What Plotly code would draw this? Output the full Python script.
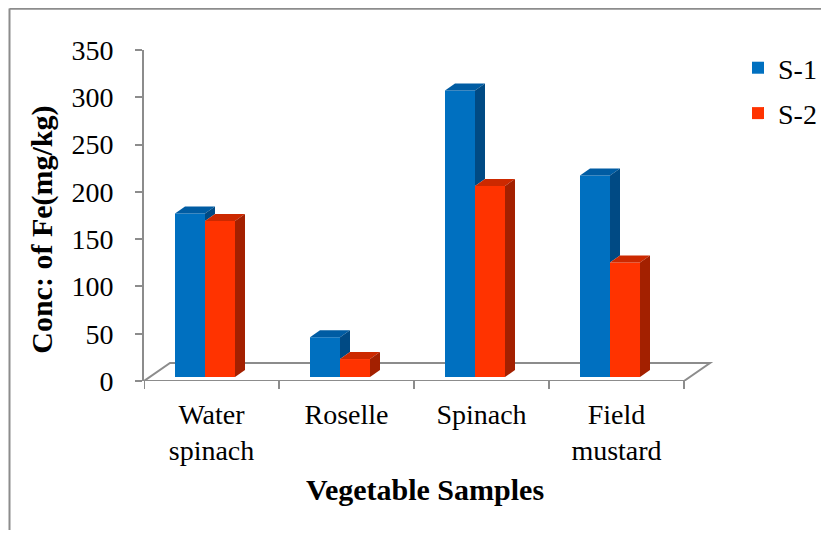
import plotly.graph_objects as go

# ---------------- data ----------------
categories = ["Water<br>spinach", "Roselle", "Spinach", "Field<br>mustard"]
series_names = ["S-1", "S-2"]
s1_values = [173, 42, 303, 213]
s2_values = [165, 19, 202, 121]
y_ticks = [0, 50, 100, 150, 200, 250, 300, 350]

# ---------------- style / geometry constants ----------------
FONT = "Liberation Serif"
OFF = 8                           # page body margin
W, H = 829 - OFF, 538 - 2 * OFF   # figure size that fits the window
# plot area in screen pixels (right edge = figure edge so the legend fits inside)
PL, PR, PT, PB = 144, 829, 50, 381.5
L, T = PL - OFF, PT - OFF
R, B = W - (PR - OFF), H - (PB - OFF)
plot_w = PR - PL
plot_h = PB - PT
PX_PER_CAT = 135.0
x_range = [-0.5, -0.5 + plot_w / PX_PER_CAT]
y_range = [0, 350]
PX_PER_Y = plot_h / (y_range[1] - y_range[0])

BAR_W_PX = 30
GROUP_SHIFT_PX = -6.5
FRONT_LIFT_PX = 4
DEPTH_PX = (10, 7)
FLOOR_PX = (26, 18)

front_cols = ["#0070C0", "#FF3300"]
top_cols = ["#005CA3", "#CC2900"]
side_cols = ["#004A84", "#A32000"]
AXIS_COL = "#8C8C8C"
TICK_SIZE = 28
TITLE_SIZE = 30


def ux(px):
    return px / PX_PER_CAT


def uy(px):
    return px / PX_PER_Y


def px_paper_x(px):
    return (px - PL) / plot_w


def px_paper_y(py):
    return (PB - py) / plot_h


series = [s1_values, s2_values]
n = len(categories)
base = uy(FRONT_LIFT_PX)
bw = ux(BAR_W_PX)
ddx, ddy = ux(DEPTH_PX[0]), uy(DEPTH_PX[1])

fig = go.Figure()

# front faces (real bars)
centers = []
for j, vals in enumerate(series):
    xc = [i + ux(GROUP_SHIFT_PX + (j - 0.5) * BAR_W_PX) for i in range(n)]
    centers.append(xc)
    fig.add_trace(go.Bar(
        x=xc, y=vals, base=[base] * n, width=bw,
        name=series_names[j], legendgroup=series_names[j],
        marker=dict(color=front_cols[j], line=dict(width=0)),
        hovertemplate="%{y}<extra>" + series_names[j] + "</extra>",
    ))

# top and side faces
for j, vals in enumerate(series):
    for i in range(n):
        xl = centers[j][i] - bw / 2
        xr = centers[j][i] + bw / 2
        top = base + vals[i]
        fig.add_trace(go.Scatter(
            x=[xl, xr, xr + ddx, xl + ddx, xl],
            y=[top, top, top + ddy, top + ddy, top],
            fill="toself", fillcolor=top_cols[j], mode="lines",
            line=dict(width=0, color=top_cols[j]),
            legendgroup=series_names[j],
            showlegend=False, hoverinfo="skip"))
        low = base
        if j < len(series) - 1:
            nxt = series[j + 1][i]
            if nxt >= vals[i]:
                continue
            low = base + nxt
        fig.add_trace(go.Scatter(
            x=[xr, xr + ddx, xr + ddx, xr, xr],
            y=[low, low + ddy, top + ddy, top, low],
            fill="toself", fillcolor=side_cols[j], mode="lines",
            line=dict(width=0, color=side_cols[j]),
            legendgroup=series_names[j],
            showlegend=False, hoverinfo="skip"))

shapes = []
fx0, fx1 = -0.5, n - 0.5
fdx, fdy = ux(FLOOR_PX[0]), uy(FLOOR_PX[1])
shapes.append(dict(
    type="path", xref="x", yref="y", layer="below",
    path=f"M{fx0},0 L{fx1},0 L{fx1 + fdx},{fdy} L{fx0 + fdx},{fdy} Z",
    line=dict(color=AXIS_COL, width=2), fillcolor="white"))
for k in range(n + 1):
    xb = k - 0.5
    shapes.append(dict(
        type="line", xref="x", yref="paper", layer="below",
        x0=xb, x1=xb, y0=0, y1=-8 / plot_h,
        line=dict(color=AXIS_COL, width=2)))
# outer frame (left and top border)
shapes.append(dict(type="line", xref="paper", yref="paper",
                   x0=px_paper_x(9.5), x1=px_paper_x(9.5),
                   y0=px_paper_y(8.5), y1=px_paper_y(OFF + H + 5),
                   line=dict(color=AXIS_COL, width=2)))
shapes.append(dict(type="line", xref="paper", yref="paper",
                   x0=px_paper_x(9.5), x1=px_paper_x(OFF + W + 5),
                   y0=px_paper_y(8.8), y1=px_paper_y(8.8),
                   line=dict(color=AXIS_COL, width=2)))

annotations = [
    dict(text="<b>Conc: of Fe(mg/kg)</b>", textangle=-90,
         xref="paper", yref="paper", x=px_paper_x(42), y=px_paper_y(230),
         xanchor="center", yanchor="middle", showarrow=False,
         font=dict(family=FONT, size=TITLE_SIZE, color="black")),
    dict(text="<b>Vegetable Samples</b>",
         xref="paper", yref="paper", x=px_paper_x(425), y=px_paper_y(490),
         xanchor="center", yanchor="middle", showarrow=False,
         font=dict(family=FONT, size=TITLE_SIZE, color="black")),
]

fig.update_layout(
    width=W, height=H,
    margin=dict(l=L, r=R, t=T, b=B, pad=0, autoexpand=False),
    paper_bgcolor="white", plot_bgcolor="white",
    barmode="overlay",
    font=dict(family=FONT, size=TICK_SIZE, color="black"),
    shapes=shapes, annotations=annotations,
    legend=dict(x=px_paper_x(738), y=px_paper_y(43), xanchor="left", yanchor="top",
                font=dict(family=FONT, size=TICK_SIZE, color="black"),
                bgcolor="rgba(0,0,0,0)", tracegroupgap=6,
                traceorder="grouped", itemwidth=30),
    showlegend=True,
    xaxis=dict(range=x_range, tickvals=list(range(n)), ticktext=categories,
               showgrid=False, zeroline=False, showline=False, ticks="",
               ticklabelstandoff=14,
               tickfont=dict(family=FONT, size=TICK_SIZE, color="black"),
               fixedrange=True),
    yaxis=dict(range=y_range, tickvals=y_ticks, showgrid=False, zeroline=False,
               showline=True, linecolor=AXIS_COL, linewidth=2,
               ticks="outside", ticklen=7, tickwidth=2, tickcolor=AXIS_COL,
               ticklabelstandoff=16,
               tickfont=dict(family=FONT, size=TICK_SIZE, color="black"),
               fixedrange=True),
)

fig.write_html("out.html")
